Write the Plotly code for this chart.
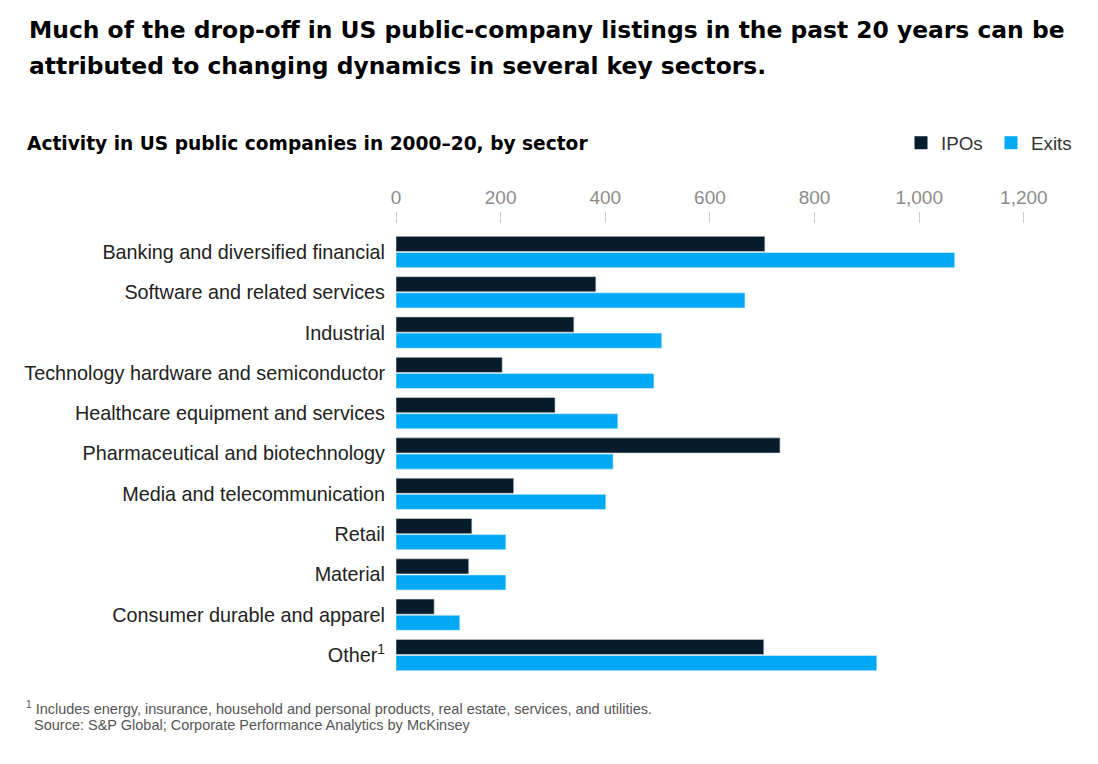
import plotly.graph_objects as go

categories = [
    "Banking and diversified financial",
    "Software and related services",
    "Industrial",
    "Technology hardware and semiconductor",
    "Healthcare equipment and services",
    "Pharmaceutical and biotechnology",
    "Media and telecommunication",
    "Retail",
    "Material",
    "Consumer durable and apparel",
    "Other<sup>1</sup>",
]
ipos = [705, 382, 340, 203, 304, 734, 225, 145, 139, 73, 703]
exits = [1068, 667, 508, 493, 424, 415, 401, 210, 210, 122, 919]
tick_vals = [0, 200, 400, 600, 800, 1000, 1200]
tick_text = ["0", "200", "400", "600", "800", "1,000", "1,200"]

W, H = 1098, 764
OFF = 8  # page body margin
L, R = 396 - OFF, 1050 - OFF
T, B = 224 - OFF, 680 - OFF

def px_x(sx):
    return (sx - OFF - L) / (R - L)

def px_y(sy):
    return (B - (sy - OFF)) / (B - T)

TITLE_FONT = "DejaVu Sans"
FONT = "Liberation Sans"
IPO_C, EXIT_C = "#051c2c", "#00a9f4"

fig = go.Figure()
fig.add_trace(go.Bar(name="IPOs", y=categories, x=ipos, orientation="h", showlegend=False,
                     marker=dict(color=IPO_C, line=dict(color="#d8d8d8", width=0.6))))
fig.add_trace(go.Bar(name="Exits", y=categories, x=exits, orientation="h", showlegend=False,
                     marker=dict(color=EXIT_C, line=dict(color="#d8f0ff", width=0.6))))
for nm, c in (("IPOs", IPO_C), ("Exits", EXIT_C)):
    fig.add_trace(go.Scatter(name=nm, x=[None], y=[None], mode="markers",
                             marker=dict(symbol="square", size=13, color=c), showlegend=True))

fig.update_layout(
    width=W, height=H,
    margin=dict(l=L, r=W - R, t=T, b=H - B, autoexpand=False),
    paper_bgcolor="white", plot_bgcolor="white",
    barmode="group", bargap=0.2, bargroupgap=0.06,
    font=dict(family=FONT, color="#222222"),
    showlegend=True,
    legend=dict(orientation="h", x=px_x(901), xanchor="left", y=px_y(143), yanchor="middle",
                font=dict(size=18.8, color="#333333", family=FONT), traceorder="normal",
                entrywidth=45, entrywidthmode="pixels", itemsizing="trace",
                bgcolor="rgba(0,0,0,0)"),
    xaxis=dict(side="top", range=[0, 1250], tickvals=tick_vals, ticktext=tick_text,
               showgrid=False, zeroline=False, showline=False,
               ticks="outside", ticklen=11, tickcolor="#cccccc", tickwidth=1,
               tickfont=dict(size=19, color="#8c8c8c"), fixedrange=True),
    yaxis=dict(range=[10.62, -0.695], showgrid=False, zeroline=False, showline=False,
               ticks="", ticklabelstandoff=10,
               tickfont=dict(size=19.8, color="#222222"), fixedrange=True),
)

anns = [
    dict(text="<b>Much of the drop-off in US public-company listings in the past 20 years can be</b>",
         x=27, y=30, size=23.4, color="#000000", font=TITLE_FONT),
    dict(text="<b>attributed to changing dynamics in several key sectors.</b>",
         x=27, y=66, size=23.4, color="#000000", font=TITLE_FONT),
    dict(text="<b>Activity in US public companies in 2000–20, by sector</b>",
         x=25, y=143, size=18.6, color="#000000", font=TITLE_FONT),
    dict(text="<sup>1</sup> Includes energy, insurance, household and personal products, real estate, services, and utilities.",
         x=24, y=708, size=14.5, color="#555555", font=FONT),
    dict(text="Source: S&P Global; Corporate Performance Analytics by McKinsey",
         x=32, y=725, size=14.5, color="#555555", font=FONT),
]
for a in anns:
    fig.add_annotation(text=a["text"], xref="paper", yref="paper",
                       x=px_x(a["x"]), y=px_y(a["y"]),
                       xanchor="left", yanchor="middle", showarrow=False,
                       font=dict(size=a["size"], color=a["color"], family=a["font"]))

fig.write_html("out.html")
